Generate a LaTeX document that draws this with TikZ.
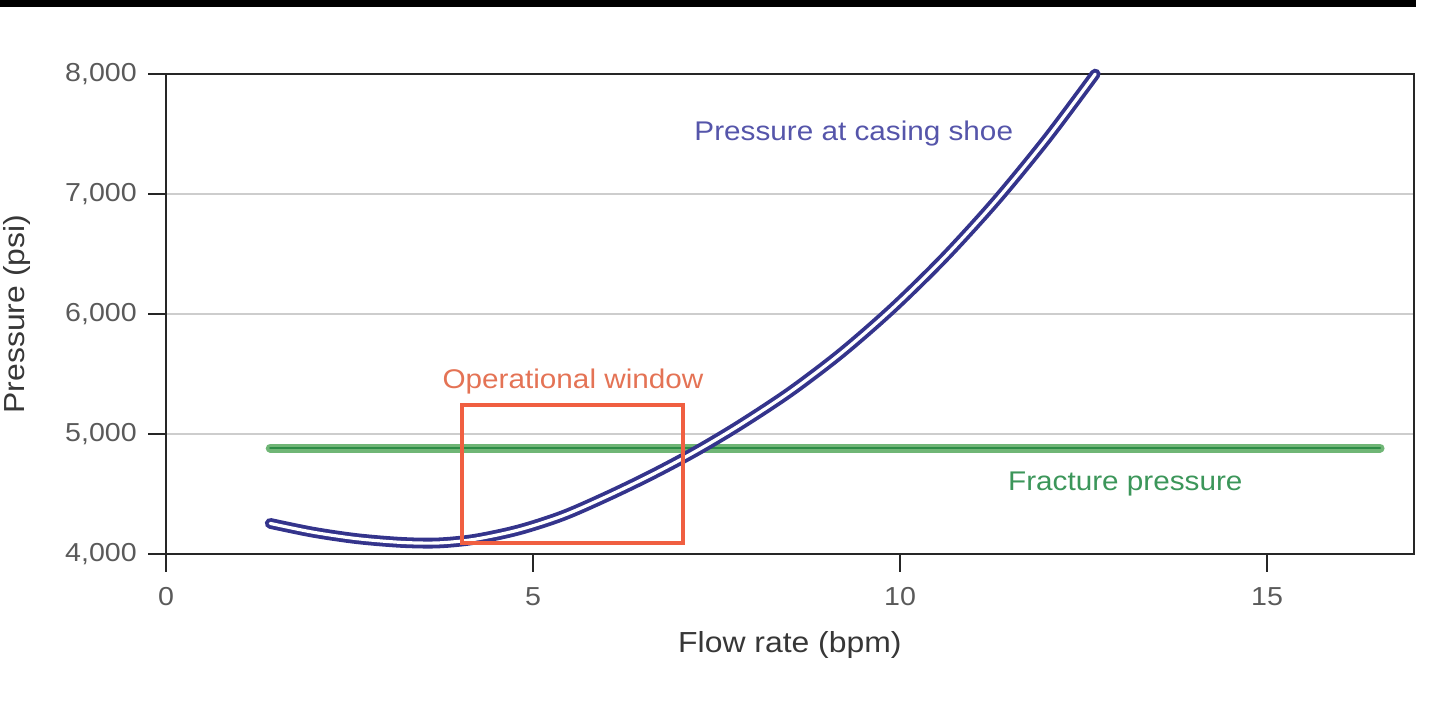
\documentclass[tikz,border=0pt]{standalone}
\usepackage{fontspec}
\setmainfont{Liberation Sans}[FakeStretch=1.1]
\definecolor{shoeblue}{RGB}{52,52,140}
\definecolor{shoetext}{RGB}{85,85,170}
\definecolor{winred}{RGB}{240,95,65}
\definecolor{wintext}{RGB}{228,115,85}
\definecolor{fracgreen}{RGB}{112,182,118}
\definecolor{fracdark}{RGB}{45,140,70}
\definecolor{fractext}{RGB}{60,150,90}
\definecolor{ticktext}{RGB}{90,90,90}
\definecolor{titletext}{RGB}{55,55,55}
\definecolor{gridgray}{RGB}{205,205,205}
\begin{document}
\begin{tikzpicture}[x=73.4pt, y=0.12pt, font=\fontsize{27}{32}\selectfont,
  axis/.style={line width=2.5pt, black!85},
  gridline/.style={line width=2.5pt, gridgray},
  ticklabel/.style={text=ticktext, inner sep=0pt, font=\fontsize{26}{30}\selectfont},
  axistitle/.style={text=titletext, inner sep=0pt, anchor=base, font=\fontsize{29}{34}\selectfont}]
\useasboundingbox (-166pt,325pt) rectangle (1274pt,1034pt);
\fill[black] (-166pt,1027pt) rectangle (1250pt,1034pt);

\foreach \p in {5000,6000,7000} \draw[gridline] (0,\p) -- (17,\p);
\foreach \k in {4,...,8} {
  \draw[axis] (0,\k000) -- ++(-18pt,0);
  \node[ticklabel, anchor=east] (ytick\k) at ([xshift=-29pt]0,\k000) {\k,000};
}
\foreach \x in {0,5,10,15} {
  \draw[axis] (\x,4000) -- ++(0,-18pt);
  \node[ticklabel, anchor=north] (xtick\x) at ([yshift=-33pt]\x,4000) {\x};
}
\draw[axis] (0,4000) rectangle (17,8000);

% fracture pressure
\draw[fracgreen, line width=9pt, line cap=round] (1.42,4883) -- (16.54,4883);
\draw[fracdark, line width=2.5pt, line cap=round] (1.42,4883) -- (16.54,4883);

% pressure at casing shoe
\draw[shoeblue, line width=3.8pt, double=white, double distance=3.2pt, line cap=round]
  plot[smooth] coordinates {(1.42,4255) (2.0,4182) (2.6,4128) (3.2,4097) (3.7,4092)
  (4.2,4122) (4.8,4200) (5.4,4318) (6.0,4478) (6.6,4655) (7.2,4850) (7.8,5068)
  (8.5,5350) (9.2,5675) (9.9,6048) (10.6,6468) (11.3,6938) (12.0,7460) (12.66,8000)};

% operational window
\draw[winred, line width=4pt] (4.03,4092) rectangle (7.04,5242);

\node[text=shoetext, inner sep=0pt, anchor=base] (shoelabel) at (9.37,7450) {Pressure at casing shoe};
\node[text=wintext, inner sep=0pt, anchor=base] (winlabel) at (5.545,5383) {Operational window};
\node[text=fractext, inner sep=0pt, anchor=base] (fraclabel) at (13.07,4533) {Fracture pressure};
\node[axistitle] (xtitle) at ([yshift=-98pt]8.5,4000) {Flow rate (bpm)};
\node[axistitle, rotate=90] (ytitle) at ([xshift=-141pt]0,6000) {Pressure (psi)};
\end{tikzpicture}
\end{document}
